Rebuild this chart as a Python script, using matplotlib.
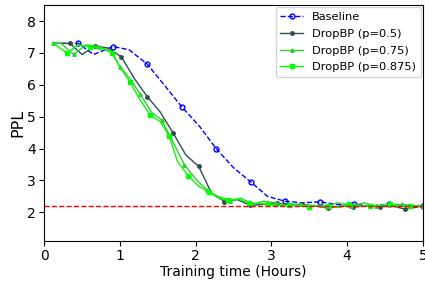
import matplotlib
matplotlib.use('Agg')
import matplotlib.pyplot as plt

# training time (hours) and perplexity
base_x = [0.12, 0.25, 0.45, 0.65, 0.91, 1.12, 1.36, 1.6, 1.82, 2.05, 2.27, 2.5, 2.73, 2.95,
          3.18, 3.41, 3.64, 3.86, 4.09, 4.32, 4.55, 4.77, 5.0]
base_y = [7.3, 7.3, 7.3, 6.95, 7.2, 7.1, 6.65, 5.95, 5.3, 4.7, 4.0, 3.4, 2.95, 2.5,
          2.35, 2.3, 2.33, 2.25, 2.25, 2.2, 2.26, 2.22, 2.2]

p50_x = [0.12, 0.34, 0.5, 0.67, 0.85, 1.02, 1.19, 1.36, 1.53, 1.70, 1.87, 2.04, 2.21, 2.38,
         2.55, 2.72, 2.89, 3.07, 3.24, 3.41, 3.58, 3.75, 3.92, 4.08, 4.26, 4.43, 4.6, 4.77, 5.0]
p50_y = [7.3, 7.3, 6.95, 7.22, 7.15, 6.87, 6.2, 5.63, 5.15, 4.5, 3.8, 3.44, 2.6, 2.34,
         2.4, 2.22, 2.25, 2.28, 2.25, 2.25, 2.2, 2.14, 2.2, 2.17, 2.2, 2.18, 2.2, 2.1, 2.2]

p75_x = [0.12, 0.22, 0.39, 0.55, 0.72, 0.88, 1.0, 1.13, 1.27, 1.42, 1.55, 1.68, 1.85, 2.0,
         2.15, 2.3, 2.45, 2.6, 2.75, 2.9, 3.05, 3.2, 3.38, 3.55, 3.72, 3.88, 4.05, 4.22,
         4.38, 4.55, 4.72, 4.88, 5.0]
p75_y = [7.3, 7.3, 6.95, 7.25, 7.2, 7.05, 6.56, 6.2, 5.7, 5.13, 4.9, 4.3, 3.5, 3.05,
         2.7, 2.45, 2.35, 2.45, 2.25, 2.35, 2.3, 2.22, 2.25, 2.2, 2.2, 2.3, 2.2, 2.3,
         2.2, 2.25, 2.25, 2.2, 2.2]

p875_x = [0.12, 0.3, 0.45, 0.6, 0.75, 0.9, 1.0, 1.13, 1.26, 1.4, 1.53, 1.65, 1.76, 1.9,
          2.04, 2.17, 2.3, 2.43, 2.56, 2.7, 2.83, 2.96, 3.1, 3.23, 3.36, 3.5, 3.63, 3.76,
          3.9, 4.03, 4.16, 4.3, 4.43, 4.56, 4.7, 4.83, 5.0]
p875_y = [7.3, 7.0, 7.25, 7.2, 7.15, 7.0, 6.55, 6.1, 5.55, 5.05, 4.85, 4.4, 3.6, 3.15,
          2.82, 2.65, 2.5, 2.4, 2.42, 2.3, 2.28, 2.25, 2.2, 2.22, 2.2, 2.18, 2.22, 2.2,
          2.15, 2.25, 2.2, 2.2, 2.22, 2.25, 2.2, 2.2, 2.2]

target_ppl = 2.2

fig = plt.figure(figsize=(4.25, 2.81), dpi=100)
ax = fig.add_axes([0.104, 0.142, 0.891, 0.84])

ax.plot(base_x, base_y, color='blue', ls='--', lw=1.0, marker='o', ms=3.5, mfc='none',
        markevery=slice(2, None, 2), label='Baseline')
ax.plot(p50_x, p50_y, color='darkslategray', lw=1.0, marker='o', ms=2.5,
        markevery=slice(1, None, 2), label='DropBP (p=0.5)')
ax.plot(p75_x, p75_y, color='limegreen', lw=1.0, marker='^', ms=2.5,
        markevery=slice(0, None, 2), label='DropBP (p=0.75)')
ax.plot(p875_x, p875_y, color='lime', lw=1.0, marker='s', ms=3,
        markevery=slice(1, None, 2), label='DropBP (p=0.875)')
ax.axhline(target_ppl, color='red', ls='--', lw=1.0)

ax.set_xlim(0, 5)
ax.set_ylim(1.1, 8.5)
ax.set_xticks([0, 1, 2, 3, 4, 5])
ax.set_yticks([2, 3, 4, 5, 6, 7, 8])
ax.tick_params(labelsize=10, pad=2.5)
ax.set_xlabel('Training time (Hours)', fontsize=10, labelpad=1)
ax.set_ylabel('PPL', fontsize=11.5, labelpad=1)
ax.legend(loc='upper right', fontsize=8.2, borderaxespad=0.2, labelspacing=0.6)

fig.savefig('out.png', dpi=100)
